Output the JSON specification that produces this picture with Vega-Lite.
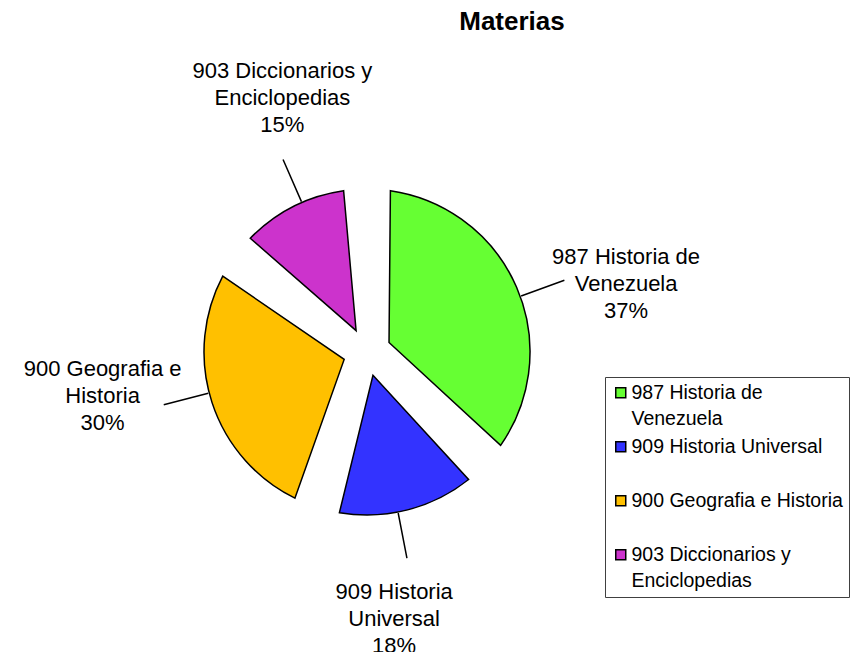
{
  "$schema": "https://vega.github.io/schema/vega-lite/v6.json",
  "autosize": {"type": "none"},
  "padding": {"left": 0, "top": 40, "right": 118, "bottom": 0},
  "width": 734,
  "height": 624,
  "background": "white",
  "title": {
    "text": "Materias",
    "font": "Liberation Sans",
    "fontSize": 26,
    "fontWeight": "bold",
    "color": "black",
    "anchor": "middle",
    "dx": 145,
    "offset": 5
  },
  "data": {
    "values": [
      {"materia": "987 Historia de Venezuela", "etiqueta": "987 Historia de\nVenezuela\n37%", "porcentaje": 37, "orden": 1},
      {"materia": "909 Historia Universal", "etiqueta": "909 Historia\nUniversal\n18%", "porcentaje": 18, "orden": 2},
      {"materia": "900 Geografia e Historia", "etiqueta": "900 Geografia e\nHistoria\n30%", "porcentaje": 30, "orden": 3},
      {"materia": "903 Diccionarios y Enciclopedias", "etiqueta": "903 Diccionarios y\nEnciclopedias\n15%", "porcentaje": 15, "orden": 4}
    ]
  },
  "encoding": {
    "theta": {"field": "porcentaje", "type": "quantitative", "stack": true},
    "order": {"field": "orden", "type": "quantitative"}
  },
  "layer": [
    {
      "mark": {"type": "arc", "radius": 163, "radius2": 24, "padAngle": 0.285, "stroke": "black", "strokeWidth": 1.5},
      "encoding": {
        "color": {
          "field": "materia",
          "type": "nominal",
          "scale": {
            "domain": ["987 Historia de Venezuela", "909 Historia Universal", "900 Geografia e Historia", "903 Diccionarios y Enciclopedias"],
            "range": ["#66FF33", "#3333FF", "#FFC000", "#CC33CC"]
          },
          "legend": {
            "orient": "none",
            "legendX": 605,
            "legendY": 337,
            "title": null,
            "strokeColor": "#404040",
            "fillColor": "white",
            "padding": 6,
            "gridAlign": "all",
            "symbolType": "square",
            "symbolSize": 100,
            "symbolStrokeColor": "black",
            "symbolStrokeWidth": 1.5,
            "symbolOpacity": 1,
            "labelFont": "Liberation Sans",
            "labelFontSize": 19.5,
            "labelColor": "black",
            "labelOffset": 1,
            "labelLimit": 400,
            "rowPadding": 7,
            "labelExpr": "datum.label == '987 Historia de Venezuela' ? ['987 Historia de', 'Venezuela'] : datum.label == '903 Diccionarios y Enciclopedias' ? ['903 Diccionarios y', 'Enciclopedias'] : datum.label",
            "encode": {"labels": {"update": {"lineHeight": {"value": 26}}}}
          }
        }
      }
    },
    {
      "mark": {"type": "arc", "radius": 210, "radius2": 164, "padAngle": 3.0, "thetaOffset": 0.06, "theta2Offset": 0.06, "filled": false, "stroke": "black", "strokeWidth": 1.5},
      "encoding": {}
    },
    {
      "mark": {"type": "text", "radius": 268, "thetaOffset": 0.15, "dy": -27, "align": "center", "baseline": "middle", "font": "Liberation Sans", "fontSize": 22, "lineHeight": 27, "lineBreak": "\n", "color": "black"},
      "encoding": {"text": {"field": "etiqueta", "type": "nominal"}}
    }
  ],
  "config": {"view": {"stroke": null}}
}
